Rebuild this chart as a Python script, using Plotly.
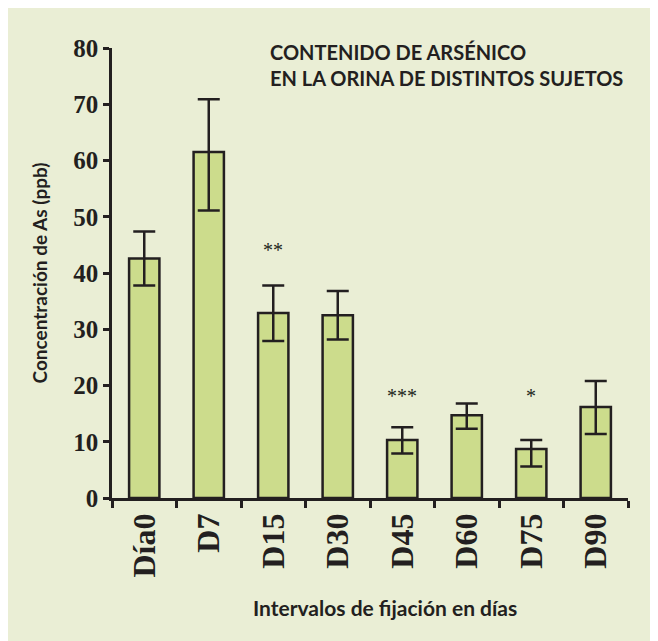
import plotly.graph_objects as go

categories = ["Día0", "D7", "D15", "D30", "D45", "D60", "D75", "D90"]
means = [42.6, 61.5, 32.9, 32.5, 10.3, 14.7, 8.7, 16.2]
err_upper = [47.4, 70.9, 37.8, 36.8, 12.6, 16.8, 10.3, 20.8]
err_lower = [37.8, 51.1, 27.9, 28.2, 7.9, 12.3, 5.6, 11.4]
y_ticks = [0, 10, 20, 30, 40, 50, 60, 70, 80]
signif_cats = ["D15", "D45", "D75"]
signif_marks = ["**", "***", "*"]
signif_y = [44.1, 18.1, 18.1]

plus = [u - m for u, m in zip(err_upper, means)]
minus = [m - l for m, l in zip(means, err_lower)]

BG = "#EAEED5"
INK = "#231F20"
BAR = "#CCDC8C"

fig = go.Figure()
fig.add_trace(go.Bar(
    x=categories, y=means, width=0.47,
    marker=dict(color=BAR, line=dict(color=INK, width=2.5)),
    error_y=dict(type="data", symmetric=False, array=plus, arrayminus=minus,
                 color=INK, thickness=2.5, width=11),
    showlegend=False,
))

for c, s, yv in zip(signif_cats, signif_marks, signif_y):
    fig.add_annotation(x=c, y=yv, text=s, showarrow=False, yanchor="middle",
                       font=dict(family="Liberation Serif", size=20, color=INK))

fig.add_annotation(x=0.302, y=1.022, xref="paper", yref="paper", xanchor="left", yanchor="top",
                   align="left", showarrow=False,
                   text="CONTENIDO DE ARSÉNICO<br>EN LA ORINA DE DISTINTOS SUJETOS",
                   font=dict(family="Lato", size=20, color=INK, weight="bold"))

fig.add_annotation(x=0.529, y=-0.243, xref="paper", yref="paper", xanchor="center", yanchor="middle",
                   showarrow=False, text="Intervalos de fijación en días",
                   font=dict(family="Lato", size=21, color=INK, weight="bold"))

fig.update_layout(
    width=650, height=633,
    margin=dict(l=104, r=30, t=40, b=143),
    paper_bgcolor=BG, plot_bgcolor=BG,
    xaxis=dict(type="category", tickson="boundaries", ticks="outside", ticklen=7, tickwidth=2.5,
               tickcolor=INK, showline=True, linewidth=2.5, linecolor=INK, tickangle=-90,
               tickfont=dict(family="Liberation Serif", size=32, color=INK, weight="bold"),
               showgrid=False, zeroline=False),
    yaxis=dict(range=[0, 80], tickvals=y_ticks, ticks="outside", ticklen=6, tickwidth=2.5,
               tickcolor=INK, showline=True, linewidth=2.5, linecolor=INK,
               tickfont=dict(family="Liberation Serif", size=25, color=INK, weight="bold"),
               showgrid=False, zeroline=False,
               title=dict(text="Concentración de As (ppb)", standoff=21,
                          font=dict(family="Lato", size=19, color=INK, weight="bold"))),
)

fig.write_html("out.html")
